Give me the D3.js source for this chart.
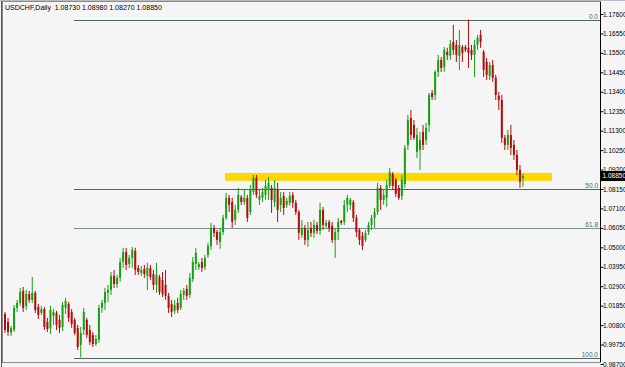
<!DOCTYPE html>
<html><head><meta charset="utf-8">
<script src="https://cdn.jsdelivr.net/npm/d3@7"></script>
<style>html,body{margin:0;padding:0;background:#fff;} svg{display:block;}</style>
</head><body>
<script>
// ---- data (USDCHF, Daily candles) ----
const open = [1.0140,1.0097,1.0038,1.0054,1.0173,1.0200,1.0265,1.0184,1.0248,1.0216,1.0254,1.0178,1.0146,1.0167,1.0097,1.0065,1.0130,1.0146,1.0108,1.0070,
1.0173,1.0194,1.0151,1.0108,1.0065,0.9973,1.0054,1.0108,1.0054,1.0027,0.9978,1.0000,1.0173,1.0200,1.0254,1.0270,1.0346,1.0302,1.0335,1.0421,
1.0475,1.0410,1.0443,1.0481,1.0389,1.0362,1.0383,1.0346,1.0389,1.0356,1.0297,1.0340,1.0324,1.0297,1.0238,1.0194,1.0157,1.0200,1.0173,1.0243,
1.0275,1.0243,1.0329,1.0410,1.0394,1.0421,1.0394,1.0459,1.0508,1.0605,1.0583,1.0529,1.0583,1.0659,1.0767,1.0745,1.0648,1.0702,1.0772,1.0745,
1.0767,1.0691,1.0799,1.0875,1.0756,1.0767,1.0783,1.0810,1.0821,1.0745,1.0810,1.0729,1.0778,1.0729,1.0740,1.0783,1.0740,1.0691,1.0567,1.0605,
1.0540,1.0605,1.0578,1.0621,1.0589,1.0702,1.0616,1.0637,1.0616,1.0540,1.0583,1.0643,1.0637,1.0729,1.0729,1.0745,1.0659,1.0594,1.0562,1.0540,
1.0583,1.0621,1.0659,1.0691,1.0821,1.0756,1.0767,1.0832,1.0896,1.0864,1.0821,1.0778,1.0842,1.1053,1.1199,1.1161,1.1015,1.1026,1.1123,1.1080,
1.1161,1.1334,1.1323,1.1447,1.1512,1.1474,1.1555,1.1534,1.1609,1.1593,1.1534,1.1582,1.1582,1.1577,1.1566,1.1539,1.1593,1.1647,1.1555,1.1501,
1.1426,1.1485,1.1415,1.1318,1.1296,1.1091,1.1053,1.1107,1.1053,1.0999,1.0918,1.0873];
const high = [1.0151,1.0119,1.0076,1.0189,1.0216,1.0281,1.0286,1.0270,1.0265,1.0340,1.0265,1.0194,1.0184,1.0178,1.0119,1.0184,1.0167,1.0157,1.0135,1.0205,
1.0227,1.0205,1.0167,1.0119,1.0081,1.0070,1.0173,1.0119,1.0081,1.0043,1.0027,1.0189,1.0216,1.0281,1.0297,1.0367,1.0378,1.0351,1.0443,1.0497,
1.0497,1.0459,1.0502,1.0497,1.0405,1.0400,1.0405,1.0416,1.0405,1.0378,1.0416,1.0351,1.0367,1.0378,1.0254,1.0216,1.0216,1.0227,1.0270,1.0281,
1.0297,1.0362,1.0448,1.0497,1.0421,1.0443,1.0459,1.0524,1.0632,1.0621,1.0594,1.0605,1.0675,1.0794,1.0783,1.0767,1.0729,1.0821,1.0783,1.0810,
1.0783,1.0837,1.0891,1.0891,1.0810,1.0821,1.0864,1.0880,1.0837,1.0864,1.0848,1.0799,1.0799,1.0767,1.0799,1.0799,1.0756,1.0702,1.0648,1.0621,
1.0637,1.0637,1.0648,1.0637,1.0740,1.0718,1.0648,1.0648,1.0637,1.0605,1.0659,1.0648,1.0756,1.0783,1.0767,1.0756,1.0675,1.0605,1.0583,1.0594,
1.0637,1.0675,1.0713,1.0848,1.0837,1.0810,1.0864,1.0929,1.0907,1.0875,1.0837,1.0891,1.1053,1.1215,1.1242,1.1188,1.1145,1.1123,1.1161,1.1172,
1.1334,1.1350,1.1458,1.1539,1.1528,1.1582,1.1577,1.1620,1.1701,1.1620,1.1674,1.1593,1.1593,1.1730,1.1593,1.1620,1.1647,1.1674,1.1566,1.1523,
1.1501,1.1512,1.1431,1.1339,1.1323,1.1107,1.1134,1.1161,1.1080,1.1026,1.0945,1.0898];
const low = [1.0038,1.0022,1.0022,1.0043,1.0151,1.0184,1.0151,1.0162,1.0200,1.0200,1.0146,1.0113,1.0135,1.0054,1.0043,1.0032,1.0081,1.0054,1.0038,1.0049,
1.0140,1.0097,1.0065,1.0027,0.9946,0.9905,1.0027,1.0011,0.9973,0.9962,0.9968,0.9984,1.0146,1.0162,1.0205,1.0243,1.0281,1.0281,1.0313,1.0389,
1.0378,1.0389,1.0389,1.0351,1.0351,1.0346,1.0335,1.0270,1.0324,1.0270,1.0254,1.0243,1.0232,1.0216,1.0146,1.0124,1.0140,1.0146,1.0162,1.0216,
1.0216,1.0227,1.0313,1.0378,1.0378,1.0367,1.0378,1.0443,1.0486,1.0556,1.0513,1.0492,1.0567,1.0648,1.0691,1.0605,1.0621,1.0686,1.0729,1.0729,
1.0637,1.0675,1.0783,1.0767,1.0729,1.0745,1.0756,1.0756,1.0686,1.0718,1.0637,1.0691,1.0675,1.0713,1.0724,1.0713,1.0675,1.0540,1.0551,1.0513,
1.0502,1.0556,1.0551,1.0572,1.0567,1.0594,1.0605,1.0583,1.0524,1.0443,1.0540,1.0621,1.0621,1.0691,1.0702,1.0637,1.0556,1.0513,1.0486,1.0529,
1.0567,1.0594,1.0605,1.0675,1.0702,1.0729,1.0718,1.0821,1.0810,1.0772,1.0756,1.0756,1.0821,1.1026,1.1080,1.1080,1.0983,1.0918,1.1026,1.1053,
1.1123,1.1296,1.1296,1.1420,1.1447,1.1447,1.1512,1.1512,1.1539,1.1501,1.1458,1.1501,1.1555,1.1469,1.1512,1.1420,1.1566,1.1577,1.1420,1.1404,
1.1404,1.1393,1.1296,1.1242,1.1064,1.1026,1.1026,1.0999,1.0972,1.0891,1.0821,1.0827];
const close = [1.0054,1.0043,1.0065,1.0173,1.0200,1.0259,1.0173,1.0248,1.0216,1.0254,1.0162,1.0135,1.0167,1.0070,1.0059,1.0162,1.0151,1.0081,1.0065,1.0189,
1.0211,1.0119,1.0086,1.0038,0.9962,1.0038,1.0151,1.0027,0.9989,0.9978,1.0005,1.0173,1.0200,1.0259,1.0270,1.0346,1.0302,1.0335,1.0421,1.0475,
1.0405,1.0443,1.0486,1.0378,1.0367,1.0378,1.0356,1.0389,1.0340,1.0297,1.0351,1.0259,1.0248,1.0238,1.0173,1.0151,1.0189,1.0162,1.0248,1.0265,
1.0238,1.0335,1.0421,1.0470,1.0410,1.0389,1.0443,1.0508,1.0605,1.0578,1.0540,1.0583,1.0659,1.0767,1.0729,1.0637,1.0702,1.0783,1.0745,1.0767,
1.0659,1.0810,1.0875,1.0783,1.0778,1.0799,1.0832,1.0848,1.0756,1.0821,1.0702,1.0767,1.0713,1.0751,1.0778,1.0740,1.0691,1.0578,1.0605,1.0540,
1.0594,1.0578,1.0621,1.0589,1.0702,1.0621,1.0632,1.0605,1.0540,1.0583,1.0637,1.0632,1.0729,1.0767,1.0756,1.0659,1.0583,1.0540,1.0508,1.0578,
1.0621,1.0659,1.0691,1.0821,1.0756,1.0783,1.0837,1.0907,1.0832,1.0789,1.0767,1.0864,1.1037,1.1188,1.1107,1.1091,1.1107,1.1080,1.1053,1.1145,
1.1323,1.1312,1.1447,1.1512,1.1469,1.1566,1.1539,1.1598,1.1566,1.1539,1.1593,1.1550,1.1566,1.1550,1.1539,1.1593,1.1631,1.1609,1.1458,1.1431,
1.1485,1.1415,1.1323,1.1296,1.1091,1.1053,1.1107,1.1037,1.0999,1.0918,1.0853,1.0885];

const priceTicks = [1.17600,1.16550,1.15500,1.14450,1.13400,1.12350,1.11300,1.10250,1.09200,1.08150,1.07100,1.06050,1.05000,1.03950,1.02900,1.01850,1.00800,0.99750,0.98700];
const fibHigh = 1.1730, fibLow = 0.9905;
const fibLevels = [0, 50, 61.8, 100];
const fibLabels = ["0.0", "50.0", "61.8", "100.0"];
const zone = [1.0859, 1.0902];
const titleText = "USDCHF,Daily  1.08730 1.08980 1.08270 1.08850";
const lastPrice = 1.08850;

// ---- layout ----
const W = 625, H = 367;
const plotL = 3, plotR = 600, plotT = 2, plotB = 362;
const FONT = "'Liberation Sans', Arial, sans-serif";

const svg = d3.select("body").append("svg").attr("width", W).attr("height", H);
svg.append("rect").attr("width", W).attr("height", H).attr("fill", "#f5f5f5");

const N = close.length;
const x = d3.scaleLinear().domain([0, N - 1]).range([5, 523]);
const y = d3.scaleLinear().domain([0.987, 1.176]).range([364, 14]);

// frame
svg.append("rect").attr("x", plotL - 0.5).attr("y", plotT - 0.5)
  .attr("width", plotR - plotL + 1).attr("height", plotB - plotT + 1)
  .attr("fill", "none").attr("stroke", "#8a8a8a").attr("stroke-width", 1);
svg.append("line").attr("x1", 1.5).attr("x2", 1.5).attr("y1", 0).attr("y2", H).attr("stroke", "#555").attr("stroke-width", 1);
svg.append("line").attr("x1", 0).attr("x2", W).attr("y1", 0.5).attr("y2", 0.5).attr("stroke", "#bbb");

// yellow zone
svg.append("rect").attr("x", 225).attr("y", y(zone[1]))
  .attr("width", 552 - 225).attr("height", y(zone[0]) - y(zone[1]))
  .attr("fill", "#ffd700");

// fib lines
const fibG = svg.append("g");
fibLevels.forEach((lv, i) => {
  const p = fibHigh - lv / 100 * (fibHigh - fibLow);
  const yy = Math.round(y(p)) + 0.5;
  fibG.append("line").attr("x1", 74).attr("x2", plotR).attr("y1", yy).attr("y2", yy)
    .attr("stroke", lv === 61.8 ? "#7d9090" : "#4d6666").attr("stroke-width", 1);
  fibG.append("text").attr("x", 598).attr("y", yy - 1.5).attr("text-anchor", "end")
    .attr("font-family", FONT).attr("font-size", 6.5).attr("fill", "#4d6a6a").text(fibLabels[i]);
});

// candles
const cg = svg.append("g");
const idx = d3.range(N);
const col = i => close[i] >= open[i] ? "#16a016" : "#b40c0c";
cg.selectAll("line.wick").data(idx).join("line").attr("class", "wick")
  .attr("x1", i => x(i)).attr("x2", i => x(i))
  .attr("y1", i => y(high[i])).attr("y2", i => y(low[i]))
  .attr("stroke", col).attr("stroke-width", 1);
cg.selectAll("rect.body").data(idx).join("rect").attr("class", "body")
  .attr("x", i => x(i) - 1).attr("width", 2)
  .attr("y", i => y(Math.max(open[i], close[i])))
  .attr("height", i => Math.max(1, Math.abs(y(open[i]) - y(close[i]))))
  .attr("fill", col);

// right axis
const axis = d3.axisRight(y).tickValues(priceTicks).tickFormat(d3.format(".5f")).tickSize(3).tickPadding(0);
const ag = svg.append("g").attr("transform", `translate(${plotR + 0.5},0)`).call(axis);
ag.select(".domain").attr("stroke", "#000").attr("d", `M0,${plotT}V${plotB}`);
ag.selectAll(".tick line").attr("stroke", "#000");
ag.selectAll(".tick text").attr("font-family", FONT).attr("font-size", 6.5).attr("fill", "#000").attr("x", 2.5);

// last price label
const ly = y(lastPrice);
svg.append("rect").attr("x", 601).attr("y", ly - 5).attr("width", 24).attr("height", 10).attr("fill", "#000");
svg.append("text").attr("x", 602.5).attr("y", ly).attr("dy", "0.32em")
  .attr("font-family", FONT).attr("font-size", 6.5).attr("fill", "#fff").text(d3.format(".5f")(lastPrice));

// title
svg.append("text").attr("x", 5).attr("y", 10).attr("font-family", FONT).attr("font-size", 7)
  .attr("fill", "#000").attr("xml:space", "preserve").text(titleText);
</script>
</body></html>
